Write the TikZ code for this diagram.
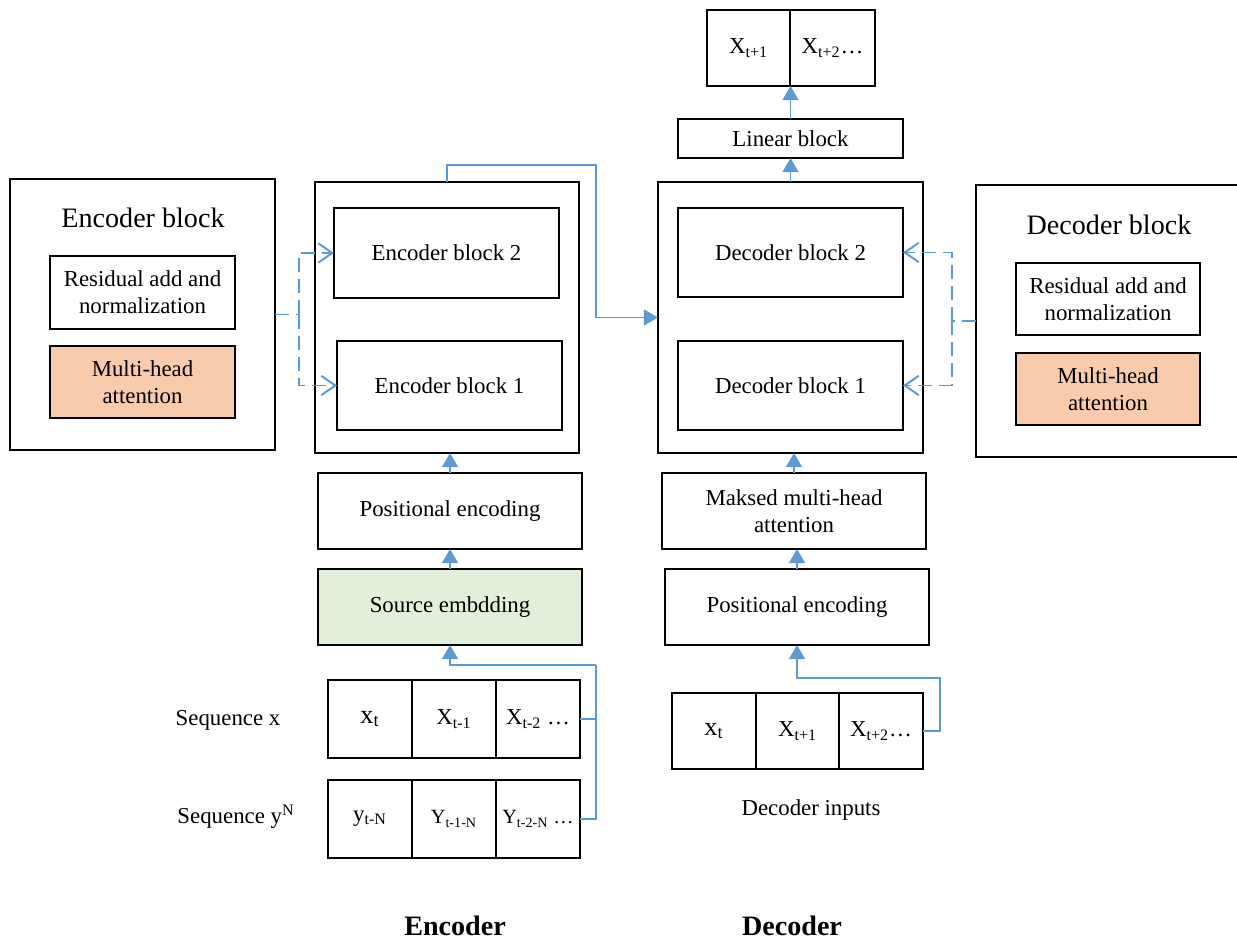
\documentclass[tikz,border=0pt]{standalone}
\usepackage{fontspec}
\setmainfont{Liberation Serif}
\usetikzlibrary{arrows.meta}
\definecolor{linkblue}{HTML}{5B9BD5}
\definecolor{attnpeach}{HTML}{F8CBAD}
\definecolor{embgreen}{HTML}{E2EFDA}
\def\bodyfont{\fontsize{13}{15.5}\selectfont}
\def\smallfont{\fontsize{11.5}{14}\selectfont}

\begin{document}
\begin{tikzpicture}[x=0.02cm,y=-0.02cm,
    box/.style={draw,line width=1pt,align=center,font=\bodyfont,inner sep=0pt,outer sep=0pt},
    cell/.style={box,minimum width=1.68cm,minimum height=1.56cm},
    link/.style={draw=linkblue,line width=1.1pt},
    flow/.style={link,-{Triangle[length=8pt,width=9pt]}},
    xattn/.style={link,dash pattern=on 8pt off 4pt,-{Straight Barb[length=8pt,width=11pt]}},
    lbl/.style={font=\bodyfont}]
  \useasboundingbox (0,0) rectangle (1237,940);

  % encoder side
  \node[box,minimum width=5.3cm,minimum height=5.42cm] (encleft) at (142.5,314.5) {};
  \node[lbl,font=\fontsize{16}{19}\selectfont] (enctitle) at (143,218) {Encoder block};
  \node[box,minimum width=3.7cm,minimum height=1.46cm] (encres) at (142.5,292.5) {Residual add and\\normalization};
  \node[box,fill=attnpeach,minimum width=3.7cm,minimum height=1.44cm] (encmha) at (142.5,382) {Multi-head\\attention};

  \node[box,minimum width=5.28cm,minimum height=5.42cm] (encstack) at (447,317.5) {};
  \node[box,minimum width=4.5cm,minimum height=1.8cm] (encb2) at (446.5,253) {Encoder block 2};
  \node[box,minimum width=4.5cm,minimum height=1.78cm] (encb1) at (449.5,385.5) {Encoder block 1};
  \node[box,minimum width=5.28cm,minimum height=1.52cm] (encpos) at (450,511) {Positional encoding};
  \node[box,fill=embgreen,minimum width=5.28cm,minimum height=1.52cm] (srcemb) at (450,607) {Source embdding};

  \node[cell] (xc1) at (370,719) {\fontsize{15}{18}\selectfont x\textsubscript{t}};
  \node[cell] (xc2) at (454,719) {X\textsubscript{t-1}};
  \node[cell] (xc3) at (538,719) {X\textsubscript{t-2} \ldots};
  \node[cell] (yc1) at (370,819) {y\textsubscript{t-N}};
  \node[cell] (yc2) at (454,819) {\smallfont Y\textsubscript{t-1-N}};
  \node[cell] (yc3) at (538,819) {\smallfont Y\textsubscript{t-2-N} \ldots};
  \node[lbl] (seqx) at (228,720) {Sequence x};
  \node[lbl] (seqy) at (236,817) {Sequence y\textsuperscript{N}};

  % decoder side
  \node[box,minimum width=5.3cm,minimum height=5.42cm] (decstack) at (790.5,317.5) {};
  \node[box,minimum width=4.5cm,minimum height=1.78cm] (decb2) at (790.5,252.5) {Decoder block 2};
  \node[box,minimum width=4.5cm,minimum height=1.78cm] (decb1) at (790.5,385.5) {Decoder block 1};
  \node[box,minimum width=4.5cm,minimum height=0.78cm] (linear) at (790.5,138.5) {Linear block};
  \node[box,minimum width=1.66cm,minimum height=1.52cm] (out1) at (748.5,48) {X\textsubscript{t+1}};
  \node[box,minimum width=1.7cm,minimum height=1.52cm] (out2) at (832.5,48) {X\textsubscript{t+2}\ldots};
  \node[box,minimum width=5.28cm,minimum height=1.52cm] (masked) at (794,511) {Maksed multi-head\\attention};
  \node[box,minimum width=5.28cm,minimum height=1.52cm] (decpos) at (797,607) {Positional encoding};

  \node[cell,minimum height=1.52cm] (dc1) at (714,731) {\fontsize{15}{18}\selectfont x\textsubscript{t}};
  \node[cell,minimum height=1.52cm] (dc2) at (797.5,731) {X\textsubscript{t+1}};
  \node[cell,minimum height=1.52cm] (dc3) at (881,731) {X\textsubscript{t+2}\ldots};
  \node[lbl] (decin) at (811,810) {Decoder inputs};

  \node[box,minimum width=5.28cm,minimum height=5.44cm] (decright) at (1108,321) {};
  \node[lbl,font=\fontsize{16}{19}\selectfont] (dectitle) at (1109,225) {Decoder block};
  \node[box,minimum width=3.68cm,minimum height=1.44cm] (decres) at (1108,299) {Residual add and\\normalization};
  \node[box,fill=attnpeach,minimum width=3.68cm,minimum height=1.44cm] (decmha) at (1108,389) {Multi-head\\attention};

  \node[font=\fontsize{16}{19}\selectfont\bfseries] (enclabel) at (455,926) {Encoder};
  \node[font=\fontsize{16}{19}\selectfont\bfseries] (declabel) at (792,926) {Decoder};

  % connectors
  \coordinate (lsplit) at (299,0);
  \coordinate (rsplit) at (952,0);
  \coordinate (bend) at (596,165);
  \coordinate (jx) at (596,665);
  \coordinate (jd) at (940,678);

  \draw[flow] (srcemb.north) -- (encpos.south);
  \draw[flow] (encpos.north) -- (encpos.north |- encstack.south);
  \draw[link] (xc3.east) -| (jx);
  \draw[link] (yc3.east) -| (jx);
  \draw[flow] (jx) -| (srcemb.south);
  \draw[flow] (encstack.north) |- (bend) |- (decstack.west);

  \draw[flow] (dc3.east) -| (jd) -| (decpos.south);
  \draw[flow] (decpos.north) -- (decpos.north |- masked.south);
  \draw[flow] (masked.north) -- (masked.north |- decstack.south);
  \draw[flow] (decstack.north) -- (linear.south);
  \draw[flow] (linear.north) -- (linear.north |- out1.south);

  \draw[link,dash pattern=on 8pt off 4pt] (encleft.east) -- (encleft.east -| lsplit);
  \draw[xattn] (encleft.east -| lsplit) |- (encb2.west);
  \draw[xattn] (encleft.east -| lsplit) |- (encb1.west);
  \draw[link,dash pattern=on 8pt off 4pt] (decright.west) -- (decright.west -| rsplit);
  \draw[xattn] (decright.west -| rsplit) |- (decb2.east);
  \draw[xattn] (decright.west -| rsplit) |- (decb1.east);
\end{tikzpicture}
\end{document}
